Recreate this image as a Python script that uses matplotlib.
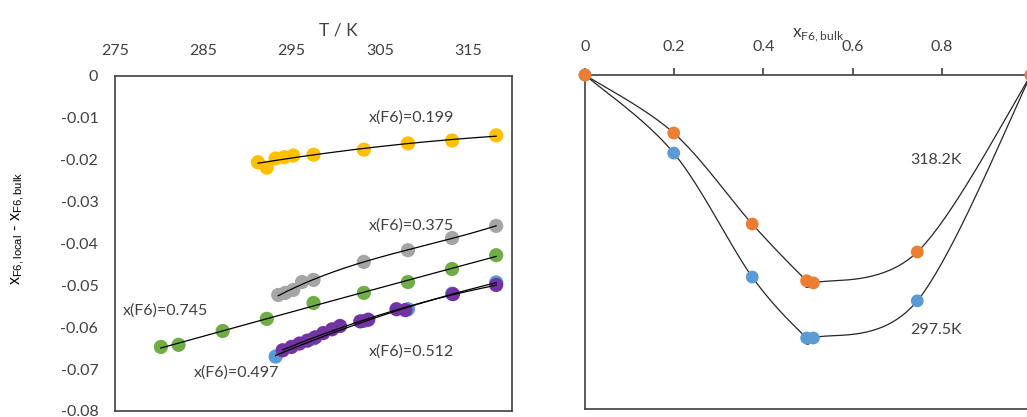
import numpy as np
import matplotlib.pyplot as plt

plt.rcParams['font.family'] = ['Lato', 'DejaVu Sans']

# left panel: deviation vs temperature for each bulk composition
T_199 = [291.2, 292.2, 293.2, 294.2, 295.2, 297.5, 303.2, 308.2, 313.2, 318.2]
d_199 = [-0.0206, -0.0219, -0.0197, -0.0194, -0.0190, -0.0188, -0.0176, -0.0161, -0.0154, -0.0142]

T_375 = [293.5, 294.3, 295.2, 296.2, 297.5, 303.2, 308.2, 313.2, 318.2]
d_375 = [-0.0523, -0.0518, -0.0511, -0.0492, -0.0487, -0.0444, -0.0416, -0.0387, -0.0358]

T_745 = [280.2, 282.2, 287.2, 292.2, 297.5, 303.2, 308.2, 313.2, 318.2]
d_745 = [-0.0647, -0.0642, -0.0609, -0.0580, -0.0542, -0.0518, -0.0492, -0.0461, -0.0428]

T_497 = [293.2, 297.5, 303.2, 308.2, 313.2, 318.2]
d_497 = [-0.0670, -0.0627, -0.0585, -0.0557, -0.0520, -0.0493]

T_512 = [294.0, 295.0, 295.9, 296.8, 297.7, 298.6, 299.6, 300.5, 302.8, 303.7, 306.9, 307.9, 313.3, 318.2]
d_512 = [-0.0655, -0.0647, -0.0639, -0.0632, -0.0624, -0.0614, -0.0605, -0.0597, -0.0586, -0.0582,
         -0.0557, -0.0559, -0.0521, -0.0499]

# right panel: deviation vs bulk composition at two temperatures
x_bulk = [0, 0.199, 0.375, 0.497, 0.512, 0.745, 1]
d_318 = [0, -0.0139, -0.0357, -0.0493, -0.0498, -0.0424, 0]
d_297 = [0, -0.0187, -0.0484, -0.0630, -0.0630, -0.0541, 0]

YELLOW = '#FFC000'
GRAY = '#A5A5A5'
GREEN = '#70AD47'
BLUE = '#5B9BD5'
PURPLE = '#7334A3'
ORANGE = '#ED7D31'
TXT = '#404040'


def smooth(xs, ys, n=40):
    # excel-like smoothed line (catmull-rom as bezier segments)
    p = np.column_stack([xs, ys]).astype(float)
    p = np.vstack([p[0], p, p[-1]])
    out = []
    t = np.linspace(0, 1, n)[:, None]
    for i in range(1, len(p) - 2):
        p0, p1, p2, p3 = p[i - 1], p[i], p[i + 1], p[i + 2]
        b1 = p1 + (p2 - p0) / 6
        b2 = p2 - (p3 - p1) / 6
        seg = (1 - t)**3 * p1 + 3 * (1 - t)**2 * t * b1 + 3 * (1 - t) * t**2 * b2 + t**3 * p2
        out.append(seg)
    out = np.vstack(out)
    return out[:, 0], out[:, 1]


def trend(ax, T, d, deg=2):
    c = np.polyfit(T, d, deg)
    xx = np.linspace(min(T), max(T), 200)
    ax.plot(xx, np.polyval(c, xx), color='black', lw=0.9, zorder=4)


fig = plt.figure(figsize=(10.27, 4.17), dpi=100)

# ---- left panel
ax1 = fig.add_axes([0.112, 0.0144, 0.3866, 0.8034])
ms = 105
for T, d, col in [(T_199, d_199, YELLOW), (T_375, d_375, GRAY), (T_745, d_745, GREEN),
                  (T_497, d_497, BLUE), (T_512, d_512, PURPLE)]:
    ax1.scatter(T, d, s=ms, color=col, edgecolors='none', zorder=3)
for T, d, deg in [(T_199, d_199, 2), (T_375, d_375, 3), (T_745, d_745, 2),
                  (T_497, d_497, 2), (T_512, d_512, 2)]:
    trend(ax1, T, d, deg)

ax1.set_xlim(275, 320)
ax1.set_ylim(-0.08, 0)
ax1.xaxis.tick_top()
ax1.set_xticks([275, 285, 295, 305, 315])
ax1.set_yticks(np.arange(-0.08, 0.001, 0.01))
ax1.set_yticklabels(['-0.08', '-0.07', '-0.06', '-0.05', '-0.04', '-0.03', '-0.02', '-0.01', '0'])
ax1.tick_params(axis='x', length=0, pad=13, labelsize=11.5, colors=TXT)
ax1.tick_params(axis='y', length=0, pad=12, labelsize=11.5, colors=TXT)
for s in ax1.spines.values():
    s.set_color(TXT)
    s.set_linewidth(1.2)

lab = dict(fontsize=11.5, color=TXT, ha='center', va='center')
ax1.text(308.6, -0.0100, 'x(F6)=0.199', **lab)
ax1.text(308.6, -0.0356, 'x(F6)=0.375', **lab)
ax1.text(280.7, -0.0559, 'x(F6)=0.745', **lab)
ax1.text(288.8, -0.0707, 'x(F6)=0.497', **lab)
ax1.text(308.6, -0.0659, 'x(F6)=0.512', **lab)

fig.text(338 / 1027, 1 - 30 / 417, 'T / K', fontsize=12.5, color=TXT, ha='center', va='center')
fig.text(18 / 1027, 1 - 228 / 417,
         r'x$_{\mathregular{F6,local}}$ - x$_{\mathregular{F6,bulk}}$',
         family=['Liberation Sans', 'DejaVu Sans'], fontsize=11.5, color='black',
         rotation=90, ha='center', va='center')

# ---- right panel
ax2 = fig.add_axes([0.5696, 0.0192, 0.4343, 0.801])
for d, col in [(d_297, BLUE), (d_318, ORANGE)]:
    sx, sy = smooth(x_bulk, d)
    ax2.plot(sx, sy, color='#262626', lw=0.9, zorder=2)
for d, col in [(d_297, BLUE), (d_318, ORANGE)]:
    ax2.scatter(x_bulk, d, s=85, color=col, edgecolors='none', zorder=3, clip_on=False)

ax2.set_xlim(0, 1)
ax2.set_ylim(-0.08, 0)
ax2.xaxis.tick_top()
ax2.set_xticks([0, 0.2, 0.4, 0.6, 0.8, 1])
# the "1" label falls outside the cropped figure
ax2.set_xticklabels(['0', '0.2', '0.4', '0.6', '0.8', ''])
ax2.set_yticks([])
ax2.tick_params(axis='x', direction='out', length=5, width=1.2, color=TXT,
                pad=10, labelsize=11.5, labelcolor=TXT)
for s in ax2.spines.values():
    s.set_color(TXT)
    s.set_linewidth(1.2)

ax2.text(0.786, -0.0204, '318.2K', **lab)
ax2.text(0.786, -0.0611, '297.5K', **lab)

fig.text(818 / 1027, 1 - 35 / 417, r'x$_{\mathregular{F6,bulk}}$', fontsize=12.5,
         color=TXT, ha='center', va='center')

fig.savefig('out.png', dpi=100)
